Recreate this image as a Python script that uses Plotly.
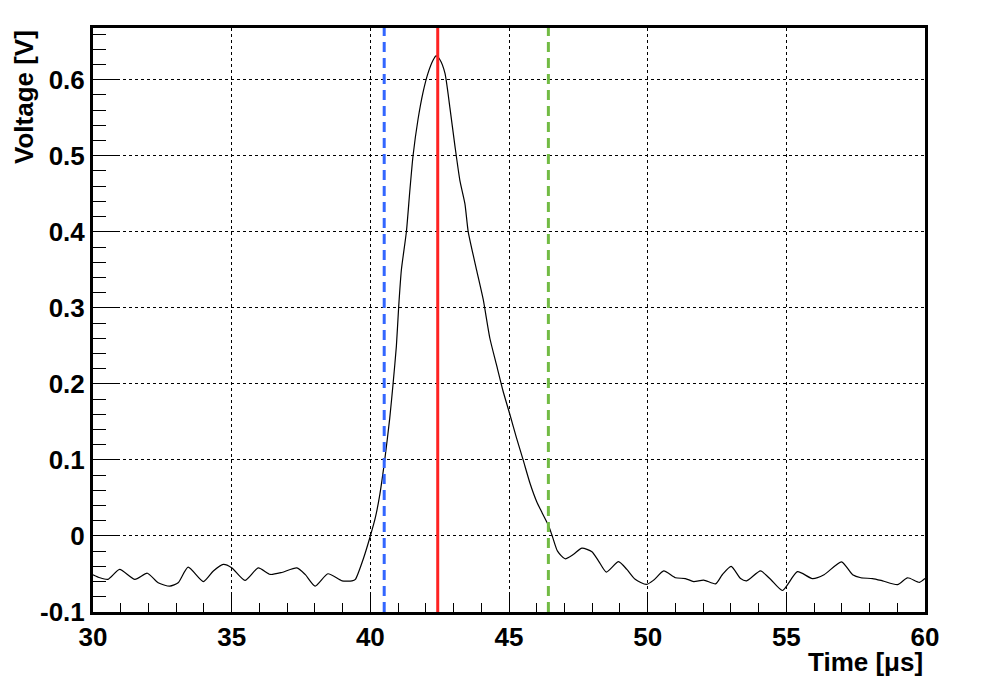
import plotly.graph_objects as go

# Waveform
time_us = [30.0, 30.25, 30.54, 30.96, 31.51, 31.96, 32.35, 32.77, 33.07, 33.43,
           33.98, 34.34, 34.70, 35.0, 35.48, 35.96, 36.39, 36.81, 37.35, 37.65,
           38.01, 38.47, 38.98, 39.34, 39.46, 39.76, 40.0, 40.18, 40.34, 40.52,
           40.70, 40.82, 40.94, 41.02, 41.12, 41.30, 41.42, 41.54, 41.72, 41.90,
           42.08, 42.27, 42.37, 42.51, 42.69, 42.87, 43.05, 43.23, 43.41, 43.53,
           43.83, 44.07, 44.31, 44.55, 44.79, 45.03, 45.27, 45.51, 45.76, 46.00,
           46.20, 46.42, 46.56, 46.75, 47.02, 47.33, 47.63, 47.99, 48.23, 48.51,
           48.95, 49.25, 49.55, 49.95, 50.22, 50.58, 51.0, 51.36, 51.66, 52.02,
           52.45, 52.69, 53.01, 53.35, 53.57, 54.07, 54.43, 54.86, 55.40, 55.94,
           56.36, 56.99, 57.39, 57.69, 58.11, 58.47, 59.01, 59.37, 59.80, 60.0]
voltage_v = [-0.051, -0.055, -0.057, -0.044, -0.057, -0.049, -0.0616, -0.066, -0.0616, -0.041,
             -0.060, -0.046, -0.0374, -0.0418, -0.0585, -0.042, -0.0506, -0.048, -0.042, -0.0506,
             -0.066, -0.0497, -0.059, -0.059, -0.057, -0.0286, 0.0, 0.024, 0.054, 0.1,
             0.155, 0.2, 0.250, 0.3, 0.35, 0.4, 0.452, 0.5, 0.548, 0.5834,
             0.6086, 0.6262, 0.6313, 0.6262, 0.6086, 0.563, 0.513, 0.4673, 0.437, 0.4,
             0.35, 0.311, 0.260, 0.225, 0.190, 0.160, 0.129, 0.1, 0.069, 0.045,
             0.030, 0.014, 0.0, -0.02, -0.030, -0.024, -0.016, -0.0207, -0.033, -0.0475,
             -0.0338, -0.044, -0.057, -0.0638, -0.058, -0.046, -0.055, -0.056, -0.060, -0.058,
             -0.063, -0.051, -0.040, -0.056, -0.059, -0.046, -0.057, -0.0717, -0.047, -0.056,
             -0.051, -0.034, -0.051, -0.055, -0.056, -0.059, -0.064, -0.055, -0.061, -0.056]

# Marker times (vertical lines)
marker_times = [40.5, 42.43, 46.42]
marker_colors = ["#3366ff", "#ff2222", "#72bb44"]
marker_dashes = ["10px,6px", "solid", "10px,6px"]

x_range = [30, 60]
y_range = [-0.1, 0.668]
y_tick_vals = [-0.1, 0, 0.1, 0.2, 0.3, 0.4, 0.5, 0.6]
y_tick_text = ["-0.1", "0", "0.1", "0.2", "0.3", "0.4", "0.5", "0.6"]
x_tick_vals = [30, 35, 40, 45, 50, 55, 60]
x_tick_text = ["30", "35", "40", "45", "50", "55", "60"]

FONT = "Liberation Sans, Arial, Helvetica, sans-serif"
FS = 26

fig = go.Figure()
fig.add_trace(go.Scatter(x=time_us, y=voltage_v, mode="lines",
                         line=dict(color="black", width=1.2, shape="spline", smoothing=0.6),
                         showlegend=False, hoverinfo="skip"))

for t, c, d in zip(marker_times, marker_colors, marker_dashes):
    fig.add_vline(x=t, line=dict(color=c, width=3, dash=d))

axis_common = dict(
    showline=True, linecolor="black", linewidth=3, mirror=True,
    showgrid=True, gridcolor="black", gridwidth=1, griddash="dot",
    zeroline=False, ticks="inside", tickcolor="black", tickwidth=1,
    tickfont=dict(family=FONT, size=FS, color="black", weight="bold"),
)

fig.update_xaxes(range=x_range, tickmode="array", tickvals=x_tick_vals, ticktext=x_tick_text,
                 ticklen=18,
                 minor=dict(tickmode="linear", tick0=30, dtick=1, ticks="inside", ticklen=9,
                            tickcolor="black", tickwidth=1, showgrid=False),
                 **axis_common)
fig.update_yaxes(range=y_range, tickmode="array", tickvals=y_tick_vals, ticktext=y_tick_text,
                 ticklen=26,
                 minor=dict(tickmode="linear", tick0=0, dtick=0.02, ticks="inside", ticklen=13,
                            tickcolor="black", tickwidth=1, showgrid=False),
                 **axis_common)

fig.add_annotation(text="Voltage [V]", textangle=-90, xref="paper", yref="paper",
                   x=0, y=1, xshift=-69, xanchor="center", yanchor="top", showarrow=False,
                   font=dict(family=FONT, size=FS, color="black", weight="bold"))
fig.add_annotation(text="Time [μs]", xref="paper", yref="paper",
                   x=1, y=0, yshift=-50, xanchor="right", yanchor="middle", showarrow=False,
                   font=dict(family=FONT, size=FS, color="black", weight="bold"))

fig.update_layout(width=981, height=688,
                  margin=dict(l=85, r=64, t=20, b=84),
                  paper_bgcolor="white", plot_bgcolor="white",
                  showlegend=False)

fig.write_html("out.html")
